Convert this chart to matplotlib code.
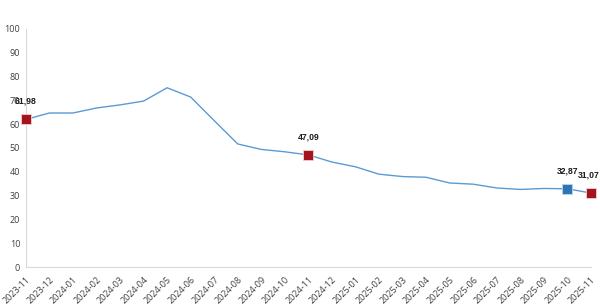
import matplotlib
matplotlib.use("Agg")
import matplotlib.pyplot as plt

# Monthly series, values
months = ['2023-11', '2023-12', '2024-01', '2024-02', '2024-03', '2024-04', '2024-05',
          '2024-06', '2024-07', '2024-08', '2024-09', '2024-10', '2024-11', '2024-12',
          '2025-01', '2025-02', '2025-03', '2025-04', '2025-05', '2025-06', '2025-07',
          '2025-08', '2025-09', '2025-10', '2025-11']
values = [61.98, 64.7, 64.7, 66.8, 68.1, 69.7, 75.3, 71.4, 61.5, 51.7, 49.4, 48.4, 47.09,
          44.1, 42.1, 39.0, 38.0, 37.7, 35.3, 34.8, 33.2, 32.6, 33.0, 32.87, 31.07]

# highlighted points: (month, colour)
highlights = [('2023-11', '#A5141C'), ('2024-11', '#A5141C'),
              ('2025-10', '#2E75B6'), ('2025-11', '#A5141C')]

fig = plt.figure(figsize=(6.0, 3.08), dpi=100)
ax = fig.add_axes([0.043, 0.133, 0.942, 0.773])

x = list(range(len(months)))
ax.plot(x, values, color='#5B9BD5', linewidth=1.0, zorder=2, clip_on=False)

for m, c in highlights:
    i = months.index(m)
    ax.plot(i, values[i], marker='s', markersize=7.5, color=c,
            markeredgecolor='#F2D0D0' if c == '#A5141C' else '#BDD7EE',
            markeredgewidth=0.6, zorder=3, clip_on=False)
    # last label sits at the right edge, nudge it in a little
    dx = -2 if i == len(months) - 1 else 0
    ax.annotate(f"{values[i]:.2f}".replace('.', ','), (i, values[i]),
                xytext=(dx, 13), textcoords='offset points', ha='center', va='center',
                fontsize=6.2, fontweight='bold', color='#1a1a1a',
                family='Liberation Sans', zorder=4)

ax.set_xlim(0, len(months) - 1)
ax.set_ylim(0, 100)
ax.set_yticks(range(0, 101, 10))
ax.set_xticks(x)
ax.set_xticklabels(months, rotation=45, ha='right', rotation_mode='anchor')

for lbl in ax.get_xticklabels() + ax.get_yticklabels():
    lbl.set_family('Open Sans')
    lbl.set_fontsize(6.5)
    lbl.set_color('#404040')

ax.tick_params(axis='both', length=0, pad=4)
ax.tick_params(axis='x', pad=6)
for s in ['top', 'right']:
    ax.spines[s].set_visible(False)
for s in ['left', 'bottom']:
    ax.spines[s].set_color('#D9D9D9')
    ax.spines[s].set_linewidth(0.8)

fig.savefig('out.png', dpi=100)
